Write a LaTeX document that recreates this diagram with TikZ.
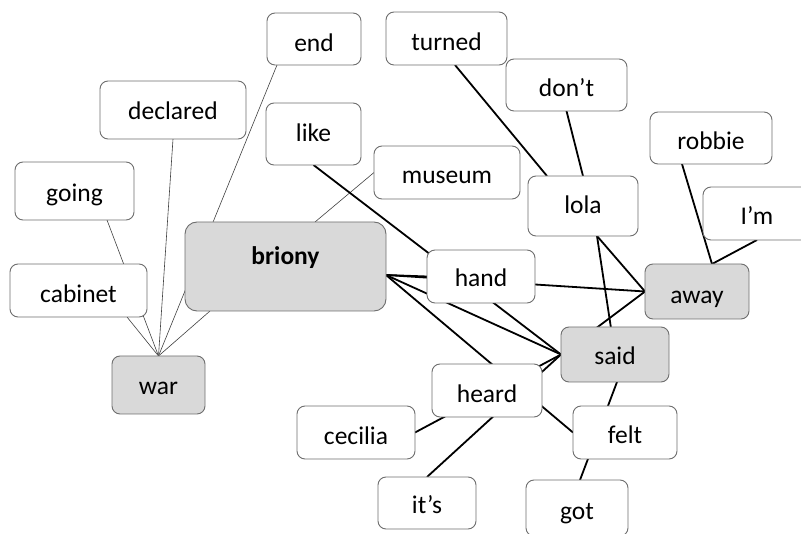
\documentclass[tikz,border=0pt]{standalone}
\usepackage{fontspec}
\setmainfont{Carlito}
\usetikzlibrary{calc}
\pgfdeclarelayer{background}
\pgfsetlayers{background,main}
\definecolor{boxline}{RGB}{110,110,110}
\definecolor{boxgray}{RGB}{217,217,217}
\tikzset{
  wbox/.style={draw=boxline, line width=0.9pt, fill=white, rounded corners=8pt,
    inner sep=0pt, outer sep=0pt, font=\fontsize{25.5}{30}\selectfont,
    text height=23pt, text depth=0pt},
  gbox/.style={wbox, fill=boxgray},
  thinedge/.style={draw=black!75, line width=0.6pt},
  thickedge/.style={draw=black, line width=1.8pt},
}
\begin{document}
\begin{tikzpicture}[x=1pt,y=-1pt]
\useasboundingbox (0,0) rectangle (801,534);
% nodes
\node[wbox, minimum width=94pt, minimum height=52pt, text height=26pt] (end) at (314,39) {end};
\node[wbox, minimum width=121pt, minimum height=53pt, text height=25pt] (turned) at (446.5,38.5) {turned};
\node[wbox, minimum width=146pt, minimum height=58pt, text height=19pt] (declared) at (173,110) {declared};
\node[wbox, minimum width=121pt, minimum height=52pt] (dont) at (566.5,85) {don’t};
\node[wbox, minimum width=95pt, minimum height=62pt, text height=16pt] (like) at (313.5,134) {like};
\node[wbox, minimum width=146pt, minimum height=53pt, text height=22pt] (museum) at (447,172.5) {museum};
\node[wbox, minimum width=122pt, minimum height=52pt, text height=24pt] (robbie) at (711,138) {robbie};
\node[wbox, minimum width=119pt, minimum height=58pt, text height=21pt] (going) at (74.5,191) {going};
\node[wbox, minimum width=110pt, minimum height=60pt, text height=15pt] (lola) at (583,206) {lola};
\node[wbox, minimum width=108pt, minimum height=53pt] (im) at (757,213.5) {I’m};
\node[gbox, minimum width=201pt, minimum height=89pt, rounded corners=12pt, text height=0pt, text depth=3pt, font=\fontsize{25.5}{30}\selectfont\bfseries] (briony) at (285.5,266.5) {briony};
\node[wbox, minimum width=137pt, minimum height=53pt, text height=24pt] (cabinet) at (78.5,290.5) {cabinet};
\node[wbox, minimum width=108pt, minimum height=53pt, text height=21pt] (hand) at (481,276.5) {hand};
\node[gbox, minimum width=104pt, minimum height=55pt, text height=24pt] (away) at (697,291.5) {away};
\node[gbox, minimum width=108pt, minimum height=55pt, text height=21pt] (said) at (615,354.5) {said};
\node[gbox, minimum width=93pt, minimum height=58pt, text height=20pt] (war) at (158.5,385) {war};
\node[wbox, minimum width=110pt, minimum height=53pt, text height=24pt] (heard) at (487,390.5) {heard};
\node[wbox, minimum width=118pt, minimum height=53pt, text height=25pt] (cecilia) at (356,432.5) {cecilia};
\node[wbox, minimum width=104pt, minimum height=53pt] (felt) at (625,432.5) {felt};
\node[wbox, minimum width=98pt, minimum height=52pt, text height=22pt] (its) at (427,503) {it’s};
\node[wbox, minimum width=102pt, minimum height=56pt, text height=22pt] (got) at (577,508) {got};
% edges
\begin{pgfonlayer}{background}
\coordinate (warp) at (war.north);
\coordinate (brp) at ([yshift=-8.5pt]briony.east);
\coordinate (saidp) at (said.west);
\coordinate (lolap) at ([xshift=14pt]lola.south);
\coordinate (awayp) at ([xshift=15pt]away.north);
\draw[thinedge] (warp) -- ([xshift=92pt]going.south west);
\draw[thinedge] (warp) -- ([xshift=117pt]cabinet.south west);
\draw[thinedge] (warp) -- (declared.south);
\draw[thinedge] (warp) -- ([xshift=10pt]end.south west);
\draw[thinedge] (warp) -- ([xshift=25pt]briony.south west);
\draw[thinedge] ([xshift=130pt]briony.north west) -- (museum.west);
\draw[thickedge] (like.south) -- (saidp);
\draw[thickedge] (brp) -- (hand.west);
\draw[thickedge] (brp) -- (saidp);
\draw[thickedge] (brp) -- (felt.west);
\draw[thickedge] (brp) -- (away.west);
\draw[thickedge] (saidp) -- (cecilia.east);
\draw[thickedge] (saidp) -- (its.north);
\draw[thickedge] (saidp) -- (away.west);
\draw[thickedge] (lolap) -- (said.center);
\draw[thickedge] (lolap) -- (away.west);
\draw[thickedge] ([xshift=2pt]said.south) -- ([xshift=3pt]got.north);
\draw[thickedge] ([xshift=-29pt]robbie.south) -- (awayp);
\draw[thickedge] (im.south) -- (awayp);
\draw[thickedge] ([xshift=69pt]turned.south west) -- ([xshift=19pt]lola.north west);
\draw[thickedge] (dont.south) -- (lola.north);
\end{pgfonlayer}
\end{tikzpicture}
\end{document}
